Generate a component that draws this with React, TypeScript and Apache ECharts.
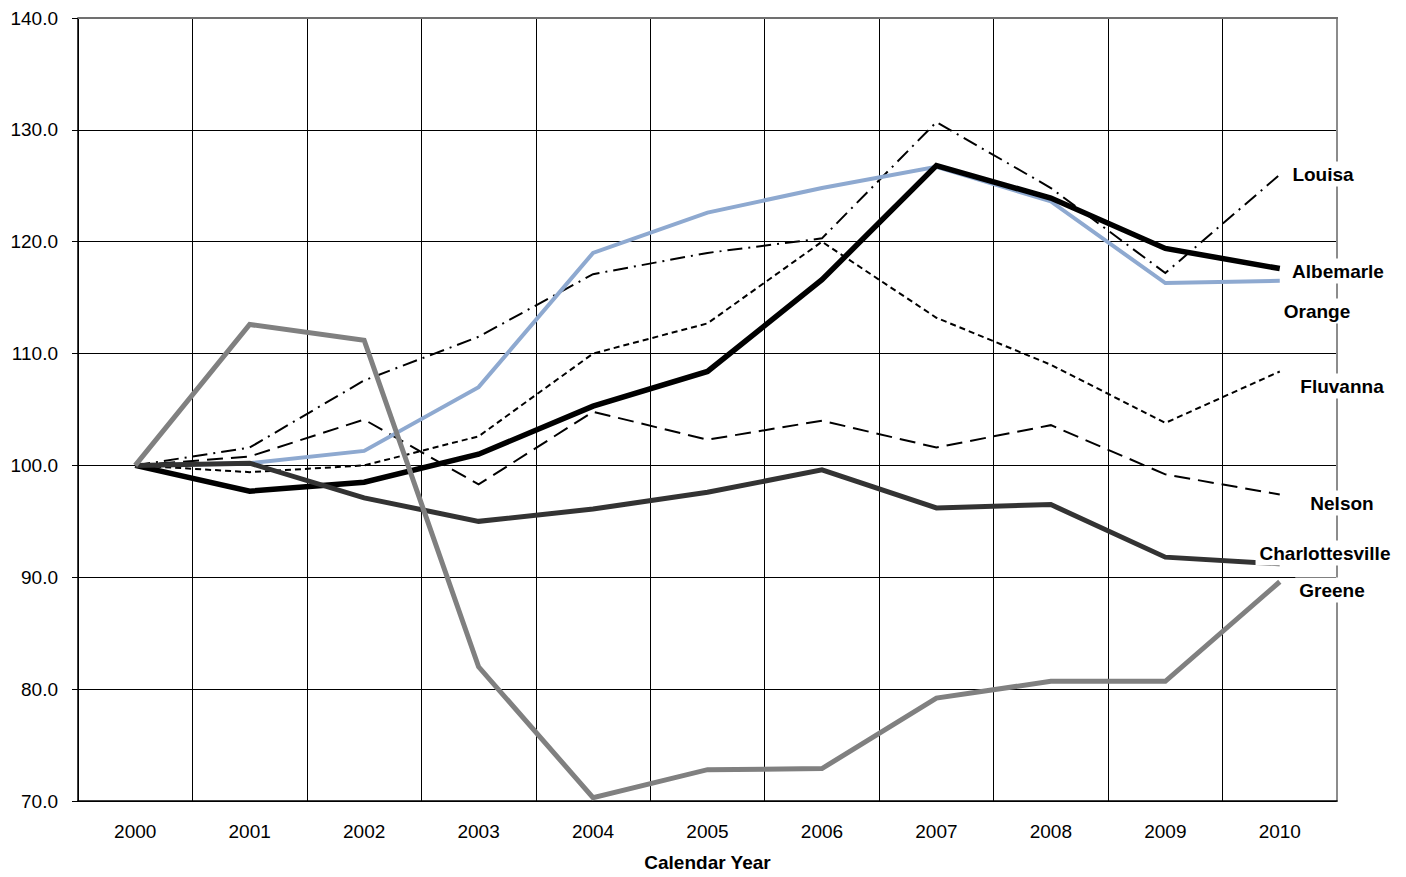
import React, { useEffect, useRef } from "react";
import * as echarts from "echarts";

const years = ["2000", "2001", "2002", "2003", "2004", "2005", "2006", "2007", "2008", "2009", "2010"];

const louisa = [100, 101.6, 107.6, 111.5, 117.1, 119.0, 120.3, 130.7, 124.8, 117.2, 126.0];
const albemarle = [100, 97.7, 98.5, 101.0, 105.3, 108.4, 116.6, 126.8, 123.9, 119.4, 117.6];
const orange = [100, 100.2, 101.3, 107.0, 119.0, 122.6, 124.8, 126.7, 123.6, 116.3, 116.5];
const fluvanna = [100, 99.4, 100.0, 102.6, 110.0, 112.7, 120.0, 113.2, 109.0, 103.8, 108.4];
const nelson = [100, 100.8, 104.1, 98.3, 104.8, 102.3, 104.0, 101.6, 103.6, 99.2, 97.4];
const charlottesville = [100, 100.2, 97.1, 95.0, 96.1, 97.6, 99.6, 96.2, 96.5, 91.8, 91.2];
const greene = [100, 112.6, 111.2, 82.0, 70.3, 72.8, 72.9, 79.2, 80.7, 80.7, 89.6];

const yTicks = [70, 80, 90, 100, 110, 120, 130, 140];

const endLabels = [
  { name: "Louisa", x: 1323, y: 174 },
  { name: "Albemarle", x: 1338, y: 271 },
  { name: "Orange", x: 1317, y: 311 },
  { name: "Fluvanna", x: 1342, y: 386 },
  { name: "Nelson", x: 1342, y: 503 },
  { name: "Charlottesville", x: 1325, y: 553 },
  { name: "Greene", x: 1332, y: 590 },
];

export default function App() {
  const ref = useRef<HTMLDivElement>(null);
  useEffect(() => {
    if (!ref.current) return;
    const chart = echarts.init(ref.current, undefined, { renderer: "svg" });
    const font = "Liberation Sans, Arial, sans-serif";
    const mk = (name: string, data: number[], color: string, width: number, type: any, z: number) => ({
      name,
      type: "line",
      data,
      showSymbol: false,
      symbol: "none",
      z,
      lineStyle: { color, width, type, cap: "butt", join: "miter" },
    });
    chart.setOption({
      animation: false,
      backgroundColor: "#fff",
      grid: { left: 78, width: 1259, top: 18, height: 790, containLabel: false },
      xAxis: {
        type: "category",
        data: years,
        boundaryGap: true,
        name: "Calendar Year",
        nameLocation: "middle",
        nameGap: 52,
        nameTextStyle: { fontFamily: font, fontSize: 19, fontWeight: "bold", color: "#000" },
        axisLine: { show: true, lineStyle: { color: "#000", width: 1.5 } },
        axisTick: { show: false },
        axisLabel: { fontFamily: font, fontSize: 19, color: "#000", margin: 21 },
        splitLine: { show: true, lineStyle: { color: "#000", width: 1 } },
      },
      yAxis: [
        {
          type: "value",
          min: 70,
          max: 140,
          interval: 10,
          axisLine: { show: true, lineStyle: { color: "#000", width: 1.5 } },
          axisTick: { show: true, length: 6, lineStyle: { color: "#000" } },
          axisLabel: {
            fontFamily: font,
            fontSize: 19,
            color: "#000",
            margin: 20,
            formatter: (v: number) => v.toFixed(1),
          },
          splitLine: {
            show: true,
            lineStyle: { color: yTicks.map((t) => (t === 140 ? "#707070" : "#000")), width: 1 },
          },
        },
        {
          type: "value",
          min: 70,
          max: 140,
          interval: 10,
          position: "right",
          axisLine: { show: true, lineStyle: { color: "#8c8c8c", width: 2 } },
          axisTick: { show: false },
          axisLabel: { show: false },
          splitLine: { show: false },
        },
      ],
      graphic: [
        {
          type: "line",
          z: 50,
          shape: { x1: 78, y1: 18, x2: 1338, y2: 18 },
          style: { stroke: "#707070", lineWidth: 2 },
        },
        ...endLabels.map((l) => ({
          type: "text",
          z: 100,
          x: l.x,
          y: l.y,
          style: {
            text: l.name,
            fontFamily: font,
            fontSize: 19,
            fontWeight: "bold",
            fill: "#000",
            align: "center",
            verticalAlign: "middle",
            backgroundColor: "#fff",
            padding: [3, 4],
          },
        })),
      ],
      series: [
        mk("Louisa", louisa, "#000", 2, [15, 6, 2, 6], 3),
        mk("Fluvanna", fluvanna, "#000", 2, [6, 4], 3),
        mk("Nelson", nelson, "#000", 2, [16, 8], 3),
        mk("Orange", orange, "#8EA9D0", 4, "solid", 4),
        mk("Albemarle", albemarle, "#000", 5.5, "solid", 5),
        mk("Charlottesville", charlottesville, "#333", 5, "solid", 6),
        mk("Greene", greene, "#808080", 5, "solid", 7),
      ],
    });
    return () => chart.dispose();
  }, []);
  return (
    <div
      ref={ref}
      style={{ position: "absolute", left: 0, top: 0, width: 1406, height: 877, background: "#fff" }}
    />
  );
}
